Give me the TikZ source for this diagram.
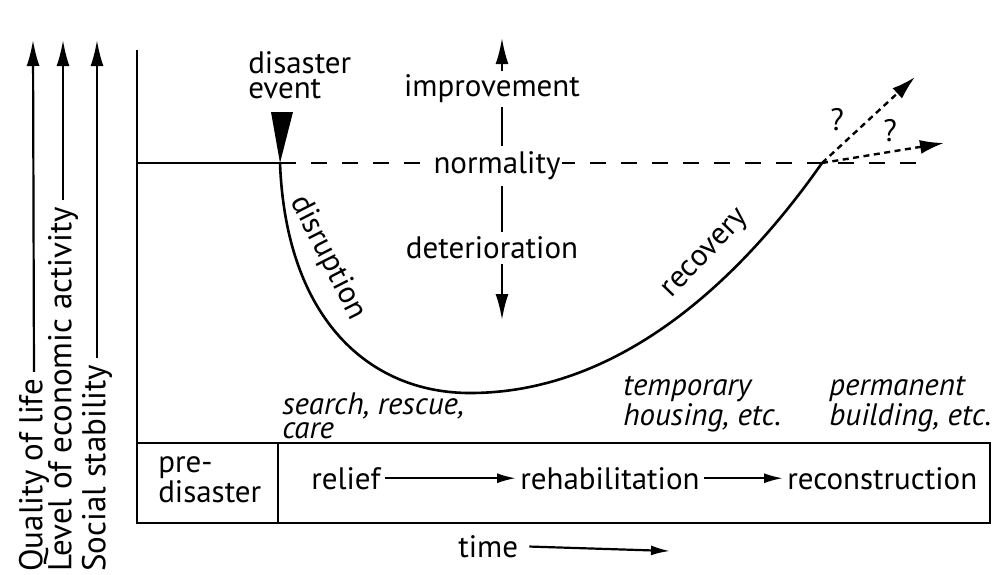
\documentclass[tikz,border=0pt]{standalone}
\usepackage{fontspec}
\setmainfont{PT Sans}
\usetikzlibrary{arrows.meta}
\tikzset{
  txt/.style={inner sep=0pt, font=\fontsize{31}{25}\selectfont},
  sidetxt/.style={inner sep=0pt, font=\fontsize{33}{25}\selectfont, rotate=90, anchor=west},
  itxt/.style={txt, font=\fontsize{31}{24}\selectfont\itshape, align=left},
  longtip/.style={-{Latex[length=26pt,width=13pt]}, line width=2.2pt},
  flowtip/.style={-{Latex[length=19pt,width=10pt]}, line width=2.2pt},
  futtip/.style={-{Latex[length=24pt,width=14pt]}, line width=2.4pt, dash pattern=on 6pt off 4.5pt},
}
\begin{document}
\begin{tikzpicture}[x=1pt,y=-1pt,line width=2.6pt]
\useasboundingbox (0,0) rectangle (992,574);
% axis labels on the left
\node[sidetxt] (qol) at (34,573) {Quality of life};
\node[sidetxt] (econ) at (63,573) {Level of economic activity};
\node[sidetxt] (soc) at (97,573) {Social stability};
\coordinate (qoltop) at (33,40);
\coordinate (econtop) at (63,40);
\coordinate (soctop) at (97,40);
\draw[longtip,shorten <=6pt] (qol.east) -- (qoltop);
\draw[longtip,shorten <=6pt] (econ.east) -- (econtop);
\draw[longtip,shorten <=6pt] (soc.east) -- (soctop);
% frame and phase box
\draw (137,50) -- (137,523) -- (990,523) -- (990,443) -- (137,443);
\draw (278,443) -- (278,523);
% normality level and the curve
\coordinate (dis) at (280,163);
\coordinate (bot) at (470,393);
\coordinate (rec) at (822,163);
\coordinate (fut1) at (915,77);
\coordinate (fut2) at (944,143);
\draw (137,163) -- (dis);
\draw[dash pattern=on 16pt off 15pt] (dis) -- (918,163);
\fill (271,112) -- (293,112) -- (dis) -- cycle;
\draw (dis) .. controls (286,320) and (370,393) .. (bot)
  .. controls (620,393) and (740,280) .. (rec);
\draw[futtip] (rec) -- (fut1);
\draw[futtip] (rec) -- (fut2);
\node[txt] (q1) at (837,120) {?};
\node[txt] (q2) at (890,131) {?};
% direction of change
\coordinate (uptip) at (502,38);
\coordinate (downtip) at (502,320);
\draw[longtip] (502,165) -- (uptip);
\draw[longtip] (502,165) -- (downtip);
\node[txt,fill=white,inner sep=4pt] (impr) at (492,89) {improvement};
\node[txt,fill=white,inner xsep=2pt,inner ysep=6pt] (norm) at (497,166) {normality};
\node[txt,fill=white,inner sep=5pt] (det) at (492,248) {deterioration};
\node[txt,align=left,anchor=base west] (event) at (247,98) {disaster\\event};
\node[txt,rotate=-63] (disr) at (328,258) {disruption};
\node[txt,rotate=46] (recov) at (707,255) {recovery};
% activities
\node[itxt,anchor=base west] (search) at (281,438) {search, rescue,\\care};
\node[itxt,anchor=base west] (temp) at (622,425) {temporary\\housing, etc.};
\node[itxt,anchor=base west] (perm) at (828,425) {permanent\\building, etc.};
% phases
\node[txt,align=left,anchor=base west] (pre) at (157,502) {pre-\\disaster};
\node[txt,anchor=base west] (relief) at (310,489) {relief};
\node[txt,anchor=base west] (rehab) at (519,489) {rehabilitation};
\node[txt,anchor=base west] (recon) at (786,489) {reconstruction};
\draw[flowtip,shorten <=3pt,shorten >=3pt] (relief) -- (rehab);
\draw[flowtip,shorten <=3pt,shorten >=3pt] (rehab) -- (recon);
% time axis
\node[txt,anchor=base west] (time) at (457,557) {time};
\coordinate (timetip) at (670,551);
\draw[flowtip,shorten <=10pt] (time.east) -- (timetip);
\end{tikzpicture}
\end{document}
